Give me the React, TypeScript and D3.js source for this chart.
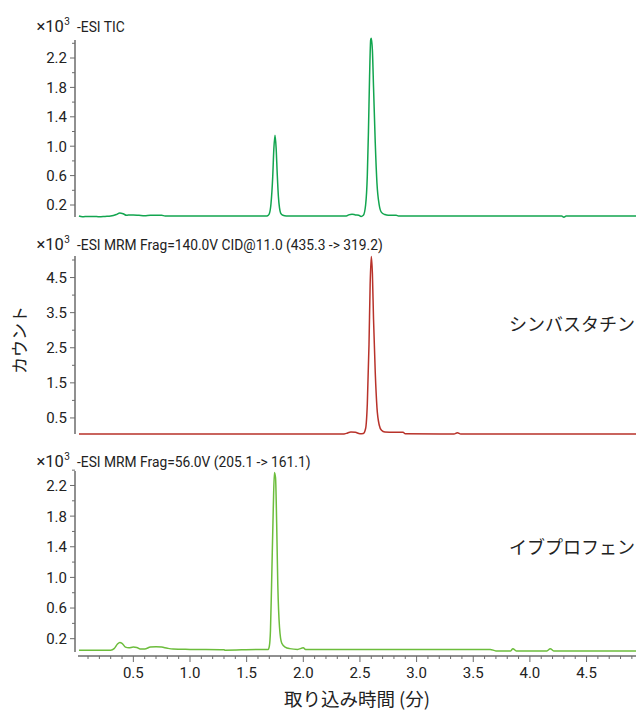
import React from "react";
import * as d3 from "d3";

// ---- Data (time in minutes, counts in ×10^3) ----
const ticTimes = [0.02, 0.05, 0.1, 0.15, 0.2, 0.25, 0.3, 0.35, 0.38, 0.41, 0.44, 0.47, 0.5, 0.55, 0.6, 0.65, 0.7, 0.75, 0.78, 1.0, 1.3, 1.6, 1.67, 1.69, 1.70, 1.715, 1.73, 1.74, 1.75, 1.76, 1.77, 1.78, 1.79, 1.80, 1.82, 1.85, 2.0, 2.2, 2.38, 2.40, 2.43, 2.46, 2.49, 2.51, 2.53, 2.55, 2.565, 2.575, 2.585, 2.595, 2.60, 2.61, 2.62, 2.635, 2.65, 2.67, 2.69, 2.72, 2.75, 2.82, 2.84, 3.0, 3.5, 4.0, 4.28, 4.30, 4.32, 4.94];
const ticValues = [0.05, 0.04, 0.045, 0.045, 0.04, 0.045, 0.05, 0.07, 0.09, 0.08, 0.06, 0.065, 0.065, 0.06, 0.055, 0.06, 0.06, 0.06, 0.05, 0.05, 0.05, 0.05, 0.05, 0.06, 0.08, 0.22, 0.58, 0.96, 1.15, 0.98, 0.62, 0.32, 0.16, 0.09, 0.06, 0.05, 0.05, 0.05, 0.05, 0.065, 0.075, 0.065, 0.06, 0.045, 0.06, 0.2, 0.6, 1.2, 1.95, 2.45, 2.47, 2.3, 1.8, 1.05, 0.5, 0.2, 0.1, 0.07, 0.06, 0.06, 0.05, 0.05, 0.05, 0.05, 0.05, 0.035, 0.05, 0.05];

const simTimes = [0.02, 0.5, 1.0, 1.5, 2.0, 2.35, 2.38, 2.42, 2.46, 2.5, 2.53, 2.55, 2.565, 2.58, 2.59, 2.60, 2.61, 2.62, 2.635, 2.65, 2.67, 2.69, 2.72, 2.8, 2.88, 2.9, 3.33, 3.36, 3.39, 4.94];
const simValues = [0.04, 0.04, 0.04, 0.04, 0.04, 0.04, 0.06, 0.1, 0.09, 0.05, 0.06, 0.2, 0.9, 2.6, 4.3, 5.1, 4.6, 3.3, 1.8, 0.8, 0.3, 0.15, 0.1, 0.09, 0.09, 0.05, 0.04, 0.08, 0.04, 0.04];

const ibuTimes = [0.02, 0.3, 0.33, 0.36, 0.38, 0.40, 0.43, 0.46, 0.5, 0.53, 0.56, 0.6, 0.65, 0.7, 0.75, 0.8, 0.85, 1.0, 1.3, 1.31, 1.6, 1.69, 1.70, 1.71, 1.72, 1.735, 1.745, 1.755, 1.765, 1.775, 1.79, 1.81, 1.84, 1.88, 1.95, 2.0, 2.02, 2.3, 3.65, 3.7, 3.83, 3.85, 3.88, 4.15, 4.18, 4.21, 4.94];
const ibuValues = [0.05, 0.05, 0.07, 0.13, 0.15, 0.14, 0.09, 0.08, 0.09, 0.085, 0.065, 0.065, 0.09, 0.095, 0.09, 0.075, 0.065, 0.06, 0.055, 0.05, 0.06, 0.06, 0.1, 0.3, 0.9, 1.9, 2.37, 2.3, 1.7, 0.9, 0.35, 0.14, 0.09, 0.07, 0.06, 0.08, 0.06, 0.06, 0.06, 0.04, 0.04, 0.07, 0.04, 0.04, 0.07, 0.04, 0.04];

const xTicks = [0.5, 1.0, 1.5, 2.0, 2.5, 3.0, 3.5, 4.0, 4.5];
const ticYTicks = [0.2, 0.6, 1.0, 1.4, 1.8, 2.2];
const simYTicks = [0.5, 1.5, 2.5, 3.5, 4.5];
const ibuYTicks = [0.2, 0.6, 1.0, 1.4, 1.8, 2.2];

const headers = [
  "-ESI TIC",
  "-ESI MRM Frag=140.0V CID@11.0 (435.3 -> 319.2)",
  "-ESI MRM Frag=56.0V (205.1 -> 161.1)",
];
const compoundLabels = ["", "シンバスタチン", "イブプロフェン"];
const xTitle = "取り込み時間 (分)";
const yTitle = "カウント";

const W = 636;
const H = 711;
const AX = 75;
const FONT = "Roboto, 'Liberation Sans', sans-serif";
const CJK = "'Noto Sans CJK JP', sans-serif";

const x = d3.scaleLinear().domain([0, 5]).range([76.7, 76.7 + 5 * 113.3]);

type Panel = {
  times: number[];
  values: number[];
  color: string;
  y: d3.ScaleLinear<number, number>;
  ticks: number[];
  minor: number[];
  axisTop: number;
  axisBottom: number;
  headerY: number;
  labelY: number;
};

const panels: Panel[] = [
  {
    times: ticTimes, values: ticValues, color: "#12a54f",
    y: d3.scaleLinear().domain([0, 2.4]).range([219.7, 219.7 - 2.4 * 73.5]),
    ticks: ticYTicks, minor: [0.4, 0.8, 1.2, 1.6, 2.0, 2.4],
    axisTop: 40, axisBottom: 217, headerY: 31.5, labelY: 0,
  },
  {
    times: simTimes, values: simValues, color: "#b8322a",
    y: d3.scaleLinear().domain([0, 5]).range([435.5, 435.5 - 5 * 35.1]),
    ticks: simYTicks, minor: [1, 2, 3, 4, 5],
    axisTop: 256, axisBottom: 434, headerY: 249.5, labelY: 331,
  },
  {
    times: ibuTimes, values: ibuValues, color: "#6cbd3c",
    y: d3.scaleLinear().domain([0, 2.4]).range([654, 654 - 2.4 * 76.6]),
    ticks: ibuYTicks, minor: [0.4, 0.8, 1.2, 1.6, 2.0, 2.4],
    axisTop: 471, axisBottom: 652, headerY: 466.5, labelY: 554,
  },
];

const xMinor = d3.range(1, 50).map((i) => i / 10).filter((v) => Math.abs(v * 2 - Math.round(v * 2)) > 1e-6);

export default function App() {
  const xAxisY = 656;
  return (
    <svg width={W} height={H} style={{ display: "block", position: "absolute", left: 0, top: 0 }}>
      <rect width={W} height={H} fill="#fff" />
      {panels.map((p, i) => {
        const line = d3
          .line<number>()
          .x((_, k) => x(p.times[k]))
          .y((v) => p.y(v))
          .curve(d3.curveMonotoneX);
        return (
          <g key={i}>
            <line x1={AX} x2={AX} y1={p.axisTop} y2={p.axisBottom} stroke="#6b6b6b" strokeWidth={1.5} />
            {p.minor.map((t) => (
              <line key={"m" + t} x1={AX - 3} x2={AX} y1={p.y(t)} y2={p.y(t)} stroke="#6b6b6b" strokeWidth={1} />
            ))}
            {p.ticks.map((t) => (
              <g key={t}>
                <line x1={AX - 5} x2={AX} y1={p.y(t)} y2={p.y(t)} stroke="#6b6b6b" strokeWidth={1} />
                <text x={67} y={p.y(t)} dy="0.36em" textAnchor="end" fontFamily={FONT} fontSize={15} fill="#222">
                  {t.toFixed(1)}
                </text>
              </g>
            ))}
            <text x={36.5} y={p.headerY} fontFamily={FONT} fontSize={16.5} fill="#222">
              ×10
              <tspan dx={0.5} dy={-6.5} fontSize={10}>3</tspan>
            </text>
            <text x={77} y={p.headerY} fontFamily={FONT} fontSize={13.8} fill="#222">
              {headers[i]}
            </text>
            {compoundLabels[i] && (
              <text x={635} y={p.labelY} textAnchor="end" fontFamily={CJK} fontSize={18} fill="#222">
                {compoundLabels[i]}
              </text>
            )}
            <path d={line(p.values) || ""} fill="none" stroke={p.color} strokeWidth={1.5} />
          </g>
        );
      })}
      {/* x axis */}
      <line x1={78} x2={636} y1={xAxisY} y2={xAxisY} stroke="#6b6b6b" strokeWidth={1.5} />
      {xMinor.map((t) => (
        <line key={"xm" + t} x1={x(t)} x2={x(t)} y1={xAxisY} y2={xAxisY + 3} stroke="#6b6b6b" strokeWidth={1} />
      ))}
      {xTicks.map((t) => (
        <g key={"x" + t}>
          <line x1={x(t)} x2={x(t)} y1={xAxisY} y2={xAxisY + 6} stroke="#6b6b6b" strokeWidth={1} />
          <text x={x(t)} y={xAxisY + 22} textAnchor="middle" fontFamily={FONT} fontSize={15} fill="#222">
            {t.toFixed(1)}
          </text>
        </g>
      ))}
      <text x={357} y={706} textAnchor="middle" fontFamily={CJK} fontSize={18.5} fill="#222">
        {xTitle}
      </text>
      <text transform="translate(26,340) rotate(-90)" textAnchor="middle" fontFamily={CJK} fontSize={17} fill="#222">
        {yTitle}
      </text>
    </svg>
  );
}
